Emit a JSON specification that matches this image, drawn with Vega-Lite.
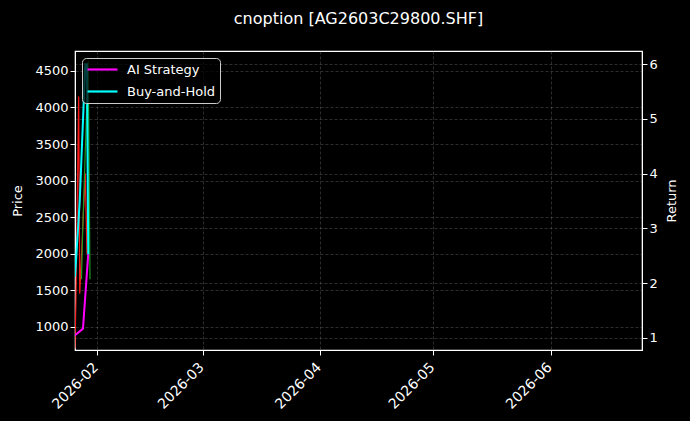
{
  "$schema": "https://vega.github.io/schema/vega-lite/v6.json",
  "autosize": {"type": "none"},
  "padding": {"left": 75, "top": 51, "right": 48, "bottom": 71},
  "width": 567,
  "height": 299,
  "background": "#000000",
  "title": {
    "text": "cnoption [AG2603C29800.SHF]",
    "color": "#ffffff",
    "font": "DejaVu Sans",
    "fontSize": 16,
    "fontWeight": "normal",
    "anchor": "middle",
    "offset": 24
  },
  "config": {
    "font": "DejaVu Sans",
    "view": {"stroke": "#ffffff", "strokeWidth": 1.2},
    "axis": {
      "labelColor": "#ffffff",
      "labelFont": "DejaVu Sans",
      "labelFontSize": 13,
      "titleColor": "#ffffff",
      "titleFont": "DejaVu Sans",
      "titleFontSize": 13,
      "titleFontWeight": "normal",
      "domainColor": "#ffffff",
      "tickColor": "#ffffff",
      "tickSize": 5,
      "gridColor": "#8a8a8a",
      "gridOpacity": 0.55,
      "gridDash": [3, 2],
      "gridWidth": 0.6
    },
    "legend": {
      "orient": "top-left",
      "offset": 7,
      "padding": 4,
      "fillColor": "rgba(0,0,0,0.75)",
      "strokeColor": "#cccccc",
      "cornerRadius": 4,
      "symbolType": "stroke",
      "symbolSize": 900,
      "symbolStrokeWidth": 2.2,
      "clipHeight": 15,
      "labelColor": "#ffffff",
      "labelFontSize": 13,
      "labelOffset": 8,
      "rowPadding": 7
    }
  },
  "datasets": {
    "price": [
      {"date": "2026-01-26T06:00:00", "series": "Close", "price": 700},
      {"date": "2026-01-26T12:00:00", "series": "Close", "price": 1400},
      {"date": "2026-01-27T05:30:00", "series": "Close", "price": 4150},
      {"date": "2026-01-27T12:00:00", "series": "Close", "price": 1450},
      {"date": "2026-01-28T23:00:00", "series": "Close", "price": 3100},
      {"date": "2026-01-29T10:00:00", "series": "Close", "price": 2000},
      {"date": "2026-01-27T23:00:00", "series": "Settle", "price": 1650},
      {"date": "2026-01-28T08:00:00", "series": "Settle", "price": 2400},
      {"date": "2026-01-29T18:00:00", "series": "Settle", "price": 4640},
      {"date": "2026-01-30T05:00:00", "series": "Settle", "price": 1650}
    ],
    "returns": [
      {"date": "2026-01-26T06:00:00", "strategy": "AI Strategy", "value": 1.05},
      {"date": "2026-01-28T08:40:00", "strategy": "AI Strategy", "value": 1.17},
      {"date": "2026-01-29T18:00:00", "strategy": "AI Strategy", "value": 2.53},
      {"date": "2026-01-26T06:00:00", "strategy": "Buy-and-Hold", "value": 2.12},
      {"date": "2026-01-27T12:00:00", "strategy": "Buy-and-Hold", "value": 3.5},
      {"date": "2026-01-28T23:00:00", "strategy": "Buy-and-Hold", "value": 6.0},
      {"date": "2026-01-29T10:00:00", "strategy": "Buy-and-Hold", "value": 6.0},
      {"date": "2026-01-29T18:00:00", "strategy": "Buy-and-Hold", "value": 2.53}
    ]
  },
  "layer": [
    {
      "data": {"name": "price"},
      "mark": {"type": "line", "strokeWidth": 1.2, "clip": true},
      "encoding": {
        "x": {
          "field": "date",
          "type": "temporal",
          "scale": {
            "domain": [
              {"year": 2026, "month": 1, "date": 26, "hours": 6},
              {"year": 2026, "month": 6, "date": 25, "hours": 4}
            ]
          },
          "axis": {
            "title": null,
            "format": "%Y-%m",
            "values": [
              {"year": 2026, "month": 2, "date": 1},
              {"year": 2026, "month": 3, "date": 1},
              {"year": 2026, "month": 4, "date": 1},
              {"year": 2026, "month": 5, "date": 1},
              {"year": 2026, "month": 6, "date": 1}
            ],
            "labelAngle": -45,
            "labelAlign": "right",
            "labelBaseline": "top",
            "labelFontSize": 14,
            "labelOffset": -6,
            "labelPadding": 5,
            "grid": true
          }
        },
        "y": {
          "field": "price",
          "type": "quantitative",
          "scale": {"domain": [681, 4773], "nice": false, "zero": false},
          "axis": {
            "title": "Price",
            "format": "d",
            "values": [1000, 1500, 2000, 2500, 3000, 3500, 4000, 4500],
            "titlePadding": 10,
            "grid": true
          }
        },
        "color": {
          "field": "series",
          "type": "nominal",
          "scale": {"domain": ["Close", "Settle"], "range": ["#ff1a1a", "#1f9a1f"]},
          "legend": null
        }
      }
    },
    {
      "data": {"name": "returns"},
      "mark": {"type": "line", "strokeWidth": 2, "clip": true},
      "encoding": {
        "x": {"field": "date", "type": "temporal"},
        "y": {
          "field": "value",
          "type": "quantitative",
          "scale": {"domain": [0.78, 6.24], "nice": false, "zero": false},
          "axis": {
            "orient": "right",
            "title": "Return",
            "titleAngle": 270,
            "titleBaseline": "top",
            "values": [1, 2, 3, 4, 5, 6],
            "titlePadding": 8,
            "grid": true
          }
        },
        "color": {
          "field": "strategy",
          "type": "nominal",
          "scale": {"domain": ["AI Strategy", "Buy-and-Hold"], "range": ["#ff00ff", "#00ffff"]},
          "legend": {"title": null}
        }
      }
    }
  ],
  "resolve": {"scale": {"y": "independent", "color": "independent"}}
}
